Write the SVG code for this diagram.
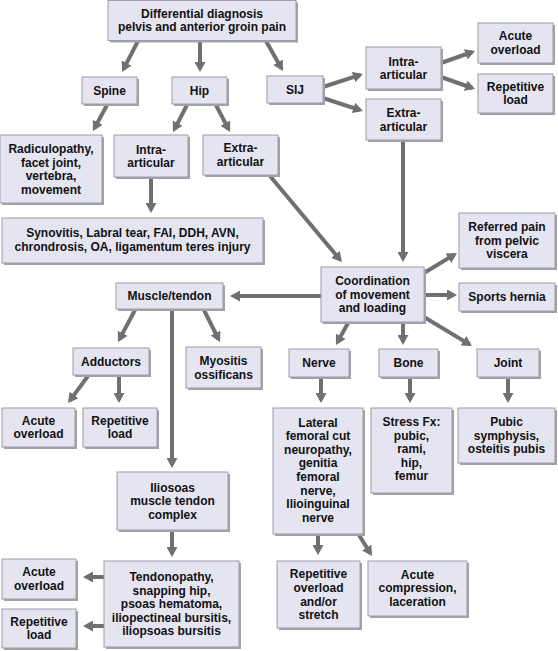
<svg xmlns="http://www.w3.org/2000/svg" width="558" height="651" viewBox="0 0 558 651">
<style>
.sh{fill:#a2a2a8}
.bx{fill:#e5e4f1;stroke:#9c9caa;stroke-width:1}
text{font-family:"Liberation Sans",Arial,sans-serif;font-weight:bold;font-size:12px;fill:#111;text-anchor:middle}
.c line{stroke:#707070;stroke-width:4;marker-end:url(#ah)}
</style>
<defs>
<marker id="ah" viewBox="0 0 10 11" refX="7" refY="5.5" markerWidth="10" markerHeight="11" markerUnits="userSpaceOnUse" orient="auto">
<path d="M0,0 L10,5.5 L0,11 Z" fill="#707070"/>
</marker>
</defs>
<rect width="558" height="651" fill="#fff"/>
<g class="c" id="connectors">
<line x1="138" y1="41" x2="123.4" y2="69.3"/>
<line x1="200" y1="41" x2="200" y2="69"/>
<line x1="266" y1="41" x2="281.5" y2="68.4"/>
<line x1="107" y1="105" x2="94.4" y2="128.4"/>
<line x1="187" y1="105" x2="174.4" y2="129.3"/>
<line x1="216" y1="105" x2="228.6" y2="129.3"/>
<line x1="323" y1="87" x2="360.1" y2="74.9"/>
<line x1="323" y1="98" x2="360.1" y2="110.1"/>
<line x1="441" y1="63" x2="472.2" y2="52"/>
<line x1="441" y1="77" x2="472.2" y2="88"/>
<line x1="403" y1="140" x2="403" y2="259"/>
<line x1="270" y1="176" x2="340" y2="259.7"/>
<line x1="151" y1="177" x2="151" y2="210"/>
<line x1="321" y1="296" x2="233" y2="296"/>
<line x1="135" y1="310" x2="119.4" y2="339.4"/>
<line x1="204" y1="310" x2="218.6" y2="339.3"/>
<line x1="172" y1="309" x2="172" y2="465"/>
<line x1="88" y1="376" x2="69.8" y2="400.6"/>
<line x1="119" y1="376" x2="119" y2="400"/>
<line x1="172" y1="531" x2="172" y2="554"/>
<line x1="104" y1="577" x2="86" y2="577"/>
<line x1="104" y1="626" x2="86" y2="626"/>
<line x1="424" y1="273" x2="454.4" y2="254.6"/>
<line x1="424" y1="295" x2="454" y2="295"/>
<line x1="424" y1="317" x2="469.4" y2="344.4"/>
<line x1="348" y1="323" x2="337.4" y2="342.4"/>
<line x1="403" y1="323" x2="403" y2="342"/>
<line x1="321" y1="378" x2="321" y2="400"/>
<line x1="410" y1="378" x2="410" y2="400"/>
<line x1="508" y1="378" x2="508" y2="400"/>
<line x1="318" y1="535" x2="318" y2="552"/>
<line x1="359" y1="535" x2="370.4" y2="553.5"/>
</g>
<g id="title"><rect class="sh" x="110" y="2.5" width="188" height="40"/><rect class="bx" x="108" y="0.5" width="188" height="40"/><text x="202" y="17.5">Differential diagnosis</text><text x="202" y="31">pelvis and anterior groin pain</text></g>
<g id="spine"><rect class="sh" x="84" y="79" width="55" height="27"/><rect class="bx" x="82" y="77" width="55" height="27"/><text x="109.5" y="94.8">Spine</text></g>
<g id="hip"><rect class="sh" x="174" y="79" width="55" height="27"/><rect class="bx" x="172" y="77" width="55" height="27"/><text x="199.5" y="94.8">Hip</text></g>
<g id="sij"><rect class="sh" x="269" y="78" width="56" height="27"/><rect class="bx" x="267" y="76" width="56" height="27"/><text x="295" y="93.8">SIJ</text></g>
<g id="radiculopathy"><rect class="sh" x="2" y="137" width="102" height="68"/><rect class="bx" x="0" y="135" width="102" height="68"/><text x="51" y="153">Radiculopathy,</text><text x="51" y="166.5">facet joint,</text><text x="51" y="180">vertebra,</text><text x="51" y="193.5">movement</text></g>
<g id="hip-intra"><rect class="sh" x="116" y="137" width="74" height="42"/><rect class="bx" x="114" y="135" width="74" height="42"/><text x="151" y="153.5">Intra-</text><text x="151" y="167">articular</text></g>
<g id="hip-extra"><rect class="sh" x="205" y="137" width="75" height="40"/><rect class="bx" x="203" y="135" width="75" height="40"/><text x="240.5" y="152">Extra-</text><text x="240.5" y="165.5">articular</text></g>
<g id="sij-intra"><rect class="sh" x="368" y="49" width="75" height="42"/><rect class="bx" x="366" y="47" width="75" height="42"/><text x="403.5" y="65.5">Intra-</text><text x="403.5" y="79">articular</text></g>
<g id="sij-extra"><rect class="sh" x="368" y="101" width="75" height="41"/><rect class="bx" x="366" y="99" width="75" height="41"/><text x="403.5" y="117">Extra-</text><text x="403.5" y="130.5">articular</text></g>
<g id="sij-acute"><rect class="sh" x="480" y="25" width="75" height="40"/><rect class="bx" x="478" y="23" width="75" height="40"/><text x="515.5" y="40">Acute</text><text x="515.5" y="53.5">overload</text></g>
<g id="sij-repetitive"><rect class="sh" x="480" y="76" width="75" height="39"/><rect class="bx" x="478" y="74" width="75" height="39"/><text x="515.5" y="90.5">Repetitive</text><text x="515.5" y="104">load</text></g>
<g id="synovitis"><rect class="sh" x="4" y="220" width="261" height="45"/><rect class="bx" x="2" y="218" width="261" height="45"/><text x="132.5" y="237">Synovitis, Labral tear, FAI, DDH, AVN,</text><text x="132.5" y="250.5">chrondrosis, OA, ligamentum teres injury</text></g>
<g id="muscle"><rect class="sh" x="118" y="285" width="107" height="26"/><rect class="bx" x="116" y="283" width="107" height="26"/><text x="169.5" y="300.3">Muscle/tendon</text></g>
<g id="adductors"><rect class="sh" x="75" y="350" width="76" height="27"/><rect class="bx" x="73" y="348" width="76" height="27"/><text x="111" y="365.8">Adductors</text></g>
<g id="myositis"><rect class="sh" x="188" y="349" width="75" height="41"/><rect class="bx" x="186" y="347" width="75" height="41"/><text x="223.5" y="365">Myositis</text><text x="223.5" y="378.5">ossificans</text></g>
<g id="add-acute"><rect class="sh" x="4" y="410" width="73" height="39"/><rect class="bx" x="2" y="408" width="73" height="39"/><text x="38.5" y="424.5">Acute</text><text x="38.5" y="438">overload</text></g>
<g id="add-repetitive"><rect class="sh" x="85" y="410" width="74" height="39"/><rect class="bx" x="83" y="408" width="74" height="39"/><text x="120" y="424.5">Repetitive</text><text x="120" y="438">load</text></g>
<g id="iliosoas"><rect class="sh" x="119" y="474" width="111" height="58"/><rect class="bx" x="117" y="472" width="111" height="58"/><text x="172.5" y="491.8">Iliosoas</text><text x="172.5" y="505.3">muscle tendon</text><text x="172.5" y="518.8">complex</text></g>
<g id="tendonopathy"><rect class="sh" x="106" y="563" width="135" height="86"/><rect class="bx" x="104" y="561" width="135" height="86"/><text x="171.5" y="581.3">Tendonopathy,</text><text x="171.5" y="594.8">snapping hip,</text><text x="171.5" y="608.3">psoas hematoma,</text><text x="171.5" y="621.8">iliopectineal bursitis,</text><text x="171.5" y="635.3">iliopsoas bursitis</text></g>
<g id="ilio-acute"><rect class="sh" x="4" y="561" width="74" height="40"/><rect class="bx" x="2" y="559" width="74" height="40"/><text x="39" y="576">Acute</text><text x="39" y="589.5">overload</text></g>
<g id="ilio-repetitive"><rect class="sh" x="4" y="611" width="74" height="39"/><rect class="bx" x="2" y="609" width="74" height="39"/><text x="39" y="625.5">Repetitive</text><text x="39" y="639">load</text></g>
<g id="referred"><rect class="sh" x="461" y="215" width="96" height="55"/><rect class="bx" x="459" y="213" width="96" height="55"/><text x="507" y="231.3">Referred pain</text><text x="507" y="244.8">from pelvic</text><text x="507" y="258.3">viscera</text></g>
<g id="coordination"><rect class="sh" x="323" y="269" width="103" height="55"/><rect class="bx" x="321" y="267" width="103" height="55"/><text x="372.5" y="285.3">Coordination</text><text x="372.5" y="298.8">of movement</text><text x="372.5" y="312.3">and loading</text></g>
<g id="sports"><rect class="sh" x="461" y="285" width="96" height="28"/><rect class="bx" x="459" y="283" width="96" height="28"/><text x="507" y="301.3">Sports hernia</text></g>
<g id="nerve"><rect class="sh" x="291" y="351" width="60" height="28"/><rect class="bx" x="289" y="349" width="60" height="28"/><text x="319" y="367.3">Nerve</text></g>
<g id="bone"><rect class="sh" x="381" y="351" width="59" height="28"/><rect class="bx" x="379" y="349" width="59" height="28"/><text x="408.5" y="367.3">Bone</text></g>
<g id="joint"><rect class="sh" x="479" y="351" width="62" height="28"/><rect class="bx" x="477" y="349" width="62" height="28"/><text x="508" y="367.3">Joint</text></g>
<g id="lateral"><rect class="sh" x="275" y="410" width="90" height="126"/><rect class="bx" x="273" y="408" width="90" height="126"/><text x="318" y="426.5">Lateral</text><text x="318" y="440.1">femoral cut</text><text x="318" y="453.7">neuropathy,</text><text x="318" y="467.3">genitia</text><text x="318" y="480.9">femoral</text><text x="318" y="494.5">nerve,</text><text x="318" y="508.1">Ilioinguinal</text><text x="318" y="521.7">nerve</text></g>
<g id="stress"><rect class="sh" x="373" y="410" width="81" height="85"/><rect class="bx" x="371" y="408" width="81" height="85"/><text x="411.5" y="426">Stress Fx:</text><text x="411.5" y="439.6">pubic,</text><text x="411.5" y="453.2">rami,</text><text x="411.5" y="466.8">hip,</text><text x="411.5" y="480.4">femur</text></g>
<g id="pubic"><rect class="sh" x="460" y="410" width="97" height="55"/><rect class="bx" x="458" y="408" width="97" height="55"/><text x="506.5" y="426.3">Pubic</text><text x="506.5" y="439.8">symphysis,</text><text x="506.5" y="453.3">osteitis pubis</text></g>
<g id="rep-overload"><rect class="sh" x="279" y="563" width="83" height="67"/><rect class="bx" x="277" y="561" width="83" height="67"/><text x="318.5" y="578.3">Repetitive</text><text x="318.5" y="591.9">overload</text><text x="318.5" y="605.5">and/or</text><text x="318.5" y="619.1">stretch</text></g>
<g id="acute-compression"><rect class="sh" x="370" y="563" width="99" height="55"/><rect class="bx" x="368" y="561" width="99" height="55"/><text x="417.5" y="578.5">Acute</text><text x="417.5" y="592">compression,</text><text x="417.5" y="605.5">laceration</text></g>
</svg>
